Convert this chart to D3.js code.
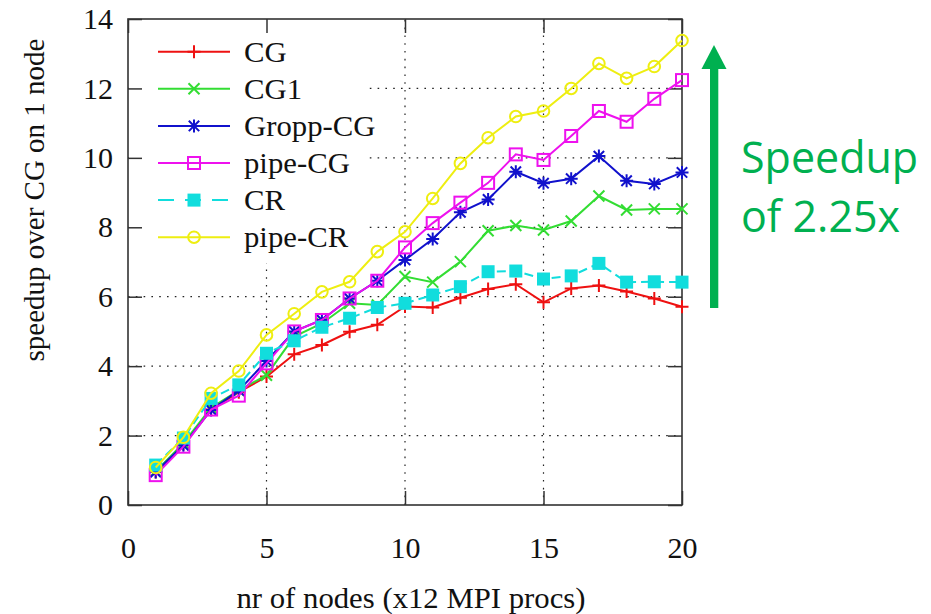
<!DOCTYPE html>
<html>
<head>
<meta charset="utf-8">
<script src="https://cdn.jsdelivr.net/npm/d3@7"></script>
<style>
  html, body { margin: 0; padding: 0; background: #ffffff; }
  svg { display: block; }
</style>
</head>
<body>
<svg id="chart" width="931" height="614"></svg>
<script>
// ---------- DATA ----------
const nodes = [1,2,3,4,5,6,7,8,9,10,11,12,13,14,15,16,17,18,19,20];
const seriesNames = ["CG", "CG1", "Gropp-CG", "pipe-CG", "CR", "pipe-CR"];
const cgValues     = [0.95,1.75,2.75,3.25,3.70,4.34,4.61,4.99,5.19,5.72,5.69,5.97,6.22,6.36,5.84,6.24,6.32,6.15,5.95,5.71];
const cg1Values    = [0.97,1.78,2.80,3.30,3.74,4.85,5.23,5.81,5.76,6.58,6.42,7.01,7.90,8.05,7.92,8.18,8.90,8.50,8.53,8.53];
const groppValues  = [0.95,1.72,2.74,3.30,4.15,5.00,5.33,5.95,6.46,7.06,7.66,8.43,8.80,9.60,9.27,9.40,10.05,9.34,9.25,9.58];
const pipeCGValues = [0.86,1.68,2.75,3.15,4.08,5.00,5.33,5.95,6.46,7.42,8.12,8.71,9.28,10.10,9.94,10.63,11.35,11.04,11.70,12.24];
const crValues     = [1.15,1.93,3.07,3.46,4.37,4.73,5.12,5.38,5.69,5.81,6.05,6.29,6.72,6.74,6.51,6.60,6.96,6.42,6.43,6.42];
const pipeCRValues = [1.08,1.95,3.22,3.86,4.90,5.51,6.14,6.43,7.30,7.87,8.83,9.84,10.58,11.19,11.35,12.00,12.72,12.29,12.63,13.38];
const xTicks = [0,5,10,15,20];
const yTicks = [0,2,4,6,8,10,12,14];
const xTitle = "nr of nodes (x12 MPI procs)";
const yTitle = "speedup over CG on 1 node";
const annotationLines = ["Speedup", "of 2.25x"];

// ---------- STYLE ----------
const colors  = ["#ee1111", "#33dd33", "#1111cc", "#ee11ee", "#11dddd", "#eeee11"];
const markers = ["plus", "cross", "star", "openSquare", "filledSquare", "openCircle"];
const dashes  = [null, null, null, null, "9,5", null];
const allValues = [cgValues, cg1Values, groppValues, pipeCGValues, crValues, pipeCRValues];

const svg = d3.select("#chart");
const L = 128, R = 682, T = 19, B = 505;
const x = d3.scaleLinear().domain([0, 20]).range([L, R]);
const y = d3.scaleLinear().domain([0, 14]).range([B, T]);
const serif = "'Liberation Serif', 'Times New Roman', serif";

// grid (dotted)
const grid = svg.append("g");
grid.selectAll("line.gx").data(xTicks.filter(d => d > 0 && d < 20)).join("line")
  .attr("x1", d => x(d)).attr("x2", d => x(d)).attr("y1", B).attr("y2", T)
  .attr("stroke", "#222").attr("stroke-width", 1.2).attr("stroke-dasharray", "1.6,6.2");
grid.selectAll("line.gy").data(yTicks.filter(d => d > 0 && d < 14)).join("line")
  .attr("x1", L).attr("x2", R).attr("y1", d => y(d)).attr("y2", d => y(d))
  .attr("stroke", "#222").attr("stroke-width", 1.2).attr("stroke-dasharray", "1.6,6.2");

// legend background (opaque, hides grid)
svg.append("rect").attr("x", L + 1).attr("y", T + 1).attr("width", 238).attr("height", 243)
  .attr("fill", "#ffffff");

// axes with inward ticks
const tick = 14;
const axL = svg.append("g").attr("transform", `translate(${L},0)`)
  .call(d3.axisLeft(y).tickValues(yTicks).tickSizeInner(-tick).tickSizeOuter(0).tickPadding(15));
const axB = svg.append("g").attr("transform", `translate(0,${B})`)
  .call(d3.axisBottom(x).tickValues(xTicks).tickSizeInner(-tick).tickSizeOuter(0).tickPadding(32));
const axR = svg.append("g").attr("transform", `translate(${R},0)`)
  .call(d3.axisRight(y).tickValues(yTicks).tickSizeInner(-tick).tickSizeOuter(0).tickFormat(""));
const axT = svg.append("g").attr("transform", `translate(0,${T})`)
  .call(d3.axisTop(x).tickValues(xTicks).tickSizeInner(-tick).tickSizeOuter(0).tickFormat(""));
[axL, axB, axR, axT].forEach(a => {
  a.select(".domain").remove();
  a.selectAll(".tick line").attr("stroke", "#333").attr("stroke-width", 1.5);
  a.selectAll("text").attr("font-family", serif).attr("font-size", 30).attr("fill", "#111");
});

// frame
svg.append("rect").attr("x", L).attr("y", T).attr("width", R - L).attr("height", B - T)
  .attr("fill", "none").attr("stroke", "#333").attr("stroke-width", 1.6);

// markers
function drawMarker(g, type, cx, cy, color) {
  const s = 6.5;
  if (type === "plus") {
    g.append("path").attr("d", `M${cx - s},${cy}H${cx + s}M${cx},${cy - s}V${cy + s}`)
      .attr("stroke", color).attr("stroke-width", 2).attr("fill", "none");
  } else if (type === "cross") {
    const k = 5.5;
    g.append("path").attr("d", `M${cx - k},${cy - k}L${cx + k},${cy + k}M${cx - k},${cy + k}L${cx + k},${cy - k}`)
      .attr("stroke", color).attr("stroke-width", 2).attr("fill", "none");
  } else if (type === "star") {
    const k = 5.2;
    g.append("path").attr("d", `M${cx - s},${cy}H${cx + s}M${cx},${cy - s}V${cy + s}M${cx - k},${cy - k}L${cx + k},${cy + k}M${cx - k},${cy + k}L${cx + k},${cy - k}`)
      .attr("stroke", color).attr("stroke-width", 2).attr("fill", "none");
  } else if (type === "openSquare") {
    g.append("rect").attr("x", cx - 6).attr("y", cy - 6).attr("width", 12).attr("height", 12)
      .attr("stroke", color).attr("stroke-width", 2).attr("fill", "none");
  } else if (type === "filledSquare") {
    g.append("rect").attr("x", cx - 6.5).attr("y", cy - 6.5).attr("width", 13).attr("height", 13)
      .attr("fill", color);
  } else if (type === "openCircle") {
    g.append("circle").attr("cx", cx).attr("cy", cy).attr("r", 5.8)
      .attr("stroke", color).attr("stroke-width", 2).attr("fill", "none");
  }
}

// series
const line = d3.line().x((d, i) => x(nodes[i])).y(d => y(d));
allValues.forEach((vals, si) => {
  const g = svg.append("g");
  g.append("path").attr("d", line(vals)).attr("fill", "none")
    .attr("stroke", colors[si]).attr("stroke-width", 2)
    .attr("stroke-dasharray", dashes[si]);
  vals.forEach((v, i) => drawMarker(g, markers[si], x(nodes[i]), y(v), colors[si]));
});

// legend
const legY0 = 51.7, legDy = 37.1;
seriesNames.forEach((name, i) => {
  const g = svg.append("g");
  const ly = legY0 + i * legDy;
  g.append("line").attr("x1", 158).attr("x2", 230).attr("y1", ly).attr("y2", ly)
    .attr("stroke", colors[i]).attr("stroke-width", 2).attr("stroke-dasharray", dashes[i] ? "16,11" : null);
  drawMarker(g, markers[i], 194, ly, colors[i]);
  g.append("text").attr("transform", `translate(244,${ly}) scale(1.06,1)`)
    .attr("dy", "0.35em").attr("font-family", serif).attr("font-size", 29).attr("fill", "#111")
    .text(name);
});

// axis titles
svg.append("text").attr("transform", `translate(${(L + R) / 2 + 6},608) scale(1.06,1)`)
  .attr("text-anchor", "middle").attr("font-family", serif).attr("font-size", 29).attr("fill", "#111")
  .text(xTitle);
svg.append("text").attr("transform", "translate(44,200) rotate(-90)")
  .attr("text-anchor", "middle").attr("font-family", serif).attr("font-size", 29).attr("fill", "#111")
  .text(yTitle);

// annotation arrow and text
const green = "#00b050";
svg.append("rect").attr("x", 710).attr("y", 66).attr("width", 8.3).attr("height", 242).attr("fill", green);
svg.append("path").attr("d", "M714,45L726.5,69L701.5,69Z").attr("fill", green);
svg.append("text").attr("x", 741).attr("y", 173).attr("font-family", "'Open Sans', sans-serif")
  .attr("font-size", 43).attr("fill", green).text(annotationLines[0]);
svg.append("text").attr("x", 741).attr("y", 232).attr("font-family", "'Open Sans', sans-serif")
  .attr("font-size", 43).attr("fill", green).text(annotationLines[1]);
</script>
</body>
</html>
